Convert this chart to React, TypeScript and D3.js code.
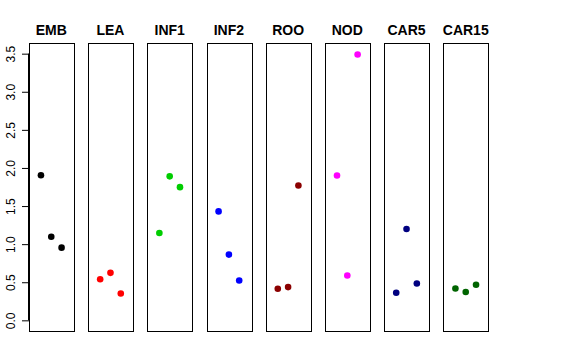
import React, { useEffect, useRef } from 'react';
import * as d3 from 'd3';

// panels in plotting order, one colour each
const panels = ['EMB', 'LEA', 'INF1', 'INF2', 'ROO', 'NOD', 'CAR5', 'CAR15'];
const panelColors = ['#000000', '#FF0000', '#00CD00', '#0000FF', '#8B0000', '#FF00FF', '#000080', '#006400'];

// replicate values (x = 1, 2, 3 inside every panel)
const rep1 = [1.905, 0.54, 1.146, 1.43, 0.414, 1.9, 0.362, 0.418];
const rep2 = [1.098, 0.623, 1.89, 0.863, 0.436, 0.588, 1.199, 0.371];
const rep3 = [0.954, 0.353, 1.748, 0.523, 1.77, 3.49, 0.484, 0.467];

const yTicks = [0, 0.5, 1, 1.5, 2, 2.5, 3, 3.5];
const replicates = [1, 2, 3];

const W = 576;
const H = 360;

const App: React.FC = () => {
  const svgRef = useRef<SVGSVGElement>(null);

  useEffect(() => {
    if (!svgRef.current) return;
    const svg = d3.select(svgRef.current);
    svg.selectAll('*').remove();

    const font = 'Liberation Sans, Arial, Helvetica, sans-serif';
    const top = 43;
    const bottom = 331;

    const band = d3.scaleBand<string>()
      .domain(panels)
      .range([29, 488])
      .paddingInner(0.248)
      .paddingOuter(0);

    // R style 4% expansion of [0, 3.5]
    const y = d3.scaleLinear().domain([-0.14, 3.64]).range([bottom, top]);

    // y axis on first panel
    const axis = svg.append('g').attr('transform', `translate(${band(panels[0])},0)`);
    axis.call(d3.axisLeft(y).tickValues(yTicks).tickSize(7).tickSizeOuter(0).tickFormat(d3.format('.1f')))
      .call(g => g.select('.domain').attr('d', `M-0.5,${y(0)}V${y(3.5)}`).attr('stroke', '#000'))
      .call(g => g.selectAll('.tick line').attr('stroke', '#000'))
      .call(g => g.selectAll('.tick text')
        .attr('x', null).attr('dy', null)
        .attr('transform', 'translate(-14,0) rotate(-90)')
        .attr('text-anchor', 'middle')
        .style('font-size', '12px')
        .style('font-family', font)
        .attr('fill', '#000'));
    axis.attr('font-size', null).attr('font-family', null);

    panels.forEach((p, i) => {
      const left = band(p)!;
      const right = left + band.bandwidth();
      const x = d3.scaleLinear().domain([-0.16, 4.16]).range([left, right]);
      const g = svg.append('g');

      g.append('rect')
        .attr('x', Math.round(left) + 0.5)
        .attr('y', top + 0.5)
        .attr('width', Math.round(right - left))
        .attr('height', bottom - top)
        .attr('fill', 'none')
        .attr('stroke', '#000')
        .attr('stroke-width', 1);

      g.append('text')
        .attr('x', (left + right) / 2)
        .attr('y', 34.5)
        .attr('text-anchor', 'middle')
        .style('font-family', font)
        .style('font-size', '14px')
        .style('font-weight', 'bold')
        .text(p);

      const vals = [rep1[i], rep2[i], rep3[i]];
      g.selectAll('circle')
        .data(replicates)
        .enter()
        .append('circle')
        .attr('cx', d => x(d))
        .attr('cy', (d, k) => y(vals[k]))
        .attr('r', 3.3)
        .attr('fill', panelColors[i]);
    });
  }, []);

  return (
    <svg
      ref={svgRef}
      width={W}
      height={H}
      style={{ position: 'absolute', left: 0, top: 0, background: '#fff' }}
    />
  );
};

export default App;
